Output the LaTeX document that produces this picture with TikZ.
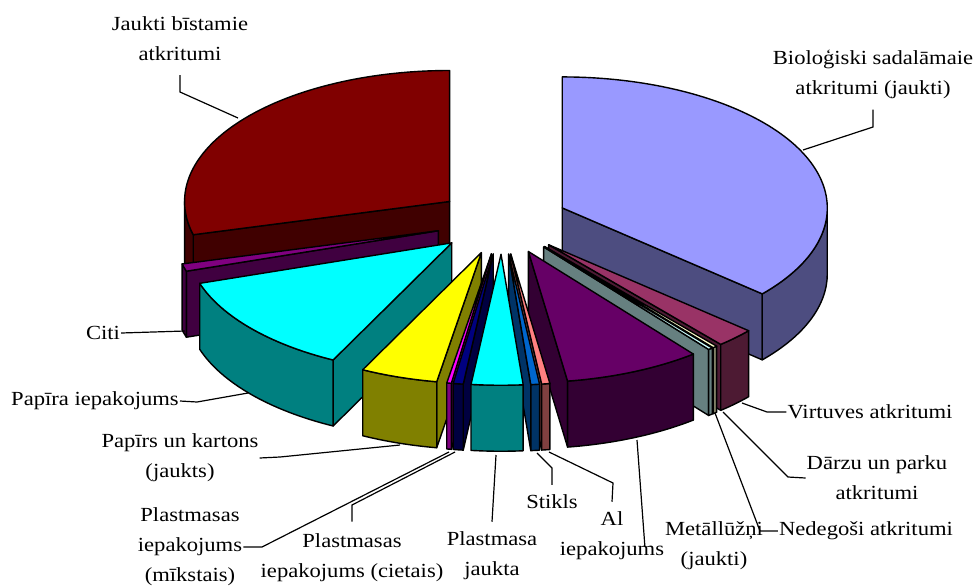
\documentclass[tikz,border=0pt]{standalone}
\usepackage{fontspec}
\setmainfont{Liberation Serif}[FakeStretch=1.13]

% slice colours: top face / side faces
\definecolor{drTop}{HTML}{800000}   \definecolor{drSide}{HTML}{400000}
\definecolor{bioTop}{HTML}{9999FF}  \definecolor{bioSide}{HTML}{4D4D80}
\definecolor{citiTop}{HTML}{800080} \definecolor{citiSide}{HTML}{400040}
\definecolor{papTop}{HTML}{00FFFF}  \definecolor{papSide}{HTML}{008080}
\definecolor{virtTop}{HTML}{993366} \definecolor{virtSide}{HTML}{4D1A33}
\definecolor{darzTop}{HTML}{FFFFCC} \definecolor{darzSide}{HTML}{808066}
\definecolor{nedTop}{HTML}{CCFFFF}  \definecolor{nedSide}{HTML}{668080}
\definecolor{metTop}{HTML}{660066}  \definecolor{metSide}{HTML}{330033}
\definecolor{kartTop}{HTML}{FFFF00} \definecolor{kartSide}{HTML}{808000}
\definecolor{mikTop}{HTML}{FF00FF}  \definecolor{mikSide}{HTML}{800080}
\definecolor{alTop}{HTML}{FF8080}   \definecolor{alSide}{HTML}{804040}
\definecolor{cietTop}{HTML}{000080} \definecolor{cietSide}{HTML}{000040}
\definecolor{stikTop}{HTML}{0066CC} \definecolor{stikSide}{HTML}{003366}
\definecolor{jaukTop}{HTML}{00FFFF} \definecolor{jaukSide}{HTML}{008080}

% exploded slice: lo angle, hi angle, front arc from, front arc to, top colour, side colour
\newcommand{\pieslice}[6]{%
  \pgfmathsetmacro\pmid{(#1+#2)/2}
  \pgfmathsetmacro\pax{502+66.25*cos(\pmid)}
  \pgfmathsetmacro\pay{-221.5+32.75*sin(\pmid)}
  \pgfmathtruncatemacro\hivis{cos(#2)<0}
  \pgfmathtruncatemacro\lovis{cos(#1)>0}
  \ifnum\hivis=1
    \filldraw[face, fill=#6] (\pax,\pay) -- ++(#2:265 and 131) -- ++(0,-66) -- (\pax,\pay-66) -- cycle;
  \fi
  \ifnum\lovis=1
    \filldraw[face, fill=#6] (\pax,\pay) -- ++(#1:265 and 131) -- ++(0,-66) -- (\pax,\pay-66) -- cycle;
  \fi
  \filldraw[face, fill=#6] (\pax,\pay) ++(#3:265 and 131)
    arc[start angle=#3, end angle=#4, x radius=265, y radius=131] -- ++(0,-66)
    arc[start angle=#4, end angle=#3, x radius=265, y radius=131] -- cycle;
  \filldraw[face, fill=#5] (\pax,\pay) -- ++(#1:265 and 131)
    arc[start angle=#1, end angle=#2, x radius=265, y radius=131] -- cycle;
}

\begin{document}
\begin{tikzpicture}[x=1pt, y=1pt,
    face/.style={draw=black, line width=1.4pt, line join=round},
    lbl/.style={font=\fontsize{20}{30}\selectfont, align=center, inner sep=1pt},
    leader/.style={draw=black, line width=1.2pt}
]
\fill[white] (0,0) rectangle (974,-587);
\useasboundingbox (0,0) rectangle (974,-587);

% slices, back to front
\pieslice{90}{194.7}{180}{194.7}{drTop}{drSide}
\pieslice{319}{450}{319}{360}{bioTop}{bioSide}
\pieslice{194.7}{198}{194.7}{198}{citiTop}{citiSide}
\pieslice{198}{243.4}{198}{243.4}{papTop}{papSide}
\pieslice{310.5}{319}{310.5}{319}{virtTop}{virtSide}
\pieslice{309.5}{310.5}{309.5}{310.5}{darzTop}{darzSide}
\pieslice{308.5}{309.5}{308.5}{309.5}{nedTop}{nedSide}
\pieslice{278.5}{308.5}{278.5}{308.5}{metTop}{metSide}
\pieslice{243.4}{260.3}{243.4}{260.3}{kartTop}{kartSide}
\pieslice{260.3}{261.3}{260.3}{261.3}{mikTop}{mikSide}
\pieslice{276.7}{278.5}{276.7}{278.5}{alTop}{alSide}
\pieslice{261.3}{263.5}{261.3}{263.5}{cietTop}{cietSide}
\pieslice{274.8}{276.7}{274.8}{276.7}{stikTop}{stikSide}
\pieslice{263.5}{274.8}{263.5}{274.8}{jaukTop}{jaukSide}

% labels
\node[lbl] (jbist) at (180,-39) {Jaukti bīstamie\\atkritumi};
\node[lbl] (bio) at (873,-74) {Bioloģiski sadalāmaie\\atkritumi (jaukti)};
\node[lbl] (citi) at (103,-333) {Citi};
\node[lbl] (papira) at (95,-401) {Papīra iepakojums};
\node[lbl] (kart) at (180,-458) {Papīrs un kartons\\(jaukts)};
\node[lbl] (mikst) at (190,-547) {Plastmasas\\iepakojums\\(mīkstais)};
\node[lbl] (ciet) at (352,-558) {Plastmasas\\iepakojums (cietais)};
\node[lbl] (jaukta) at (492,-556) {Plastmasa\\jaukta};
\node[lbl] (stikls) at (552,-502) {Stikls};
\node[lbl] (al) at (612,-536) {Al\\iepakojums};
\node[lbl] (metal) at (714,-546) {Metāllūžņi\\(jaukti)};
\node[lbl] (nedeg) at (866,-531) {Nedegoši atkritumi};
\node[lbl] (darzu) at (877,-478) {Dārzu un parku\\atkritumi};
\node[lbl] (virt) at (870,-412) {Virtuves atkritumi};

% leader bends and ends
\coordinate (jbBend) at (180,-92);   \coordinate (jbEnd) at (238,-118);
\coordinate (bioBend) at (873,-127); \coordinate (bioEnd) at (803,-150);
\coordinate (citiEnd) at (185,-331);
\coordinate (papBend) at (197,-402); \coordinate (papEnd) at (248,-393);
\coordinate (kartBend) at (280,-457); \coordinate (kartEnd) at (400,-445);
\coordinate (mikBend) at (262,-547); \coordinate (mikEnd) at (449,-452);
\coordinate (cietBend) at (352,-505); \coordinate (cietEnd) at (455,-452);
\coordinate (jaukEnd) at (496,-455);
\coordinate (stikBend) at (552,-468); \coordinate (stikEnd) at (537,-453);
\coordinate (alBend) at (613,-483); \coordinate (alEnd) at (549,-452);
\coordinate (metEnd) at (637,-440);
\coordinate (nedBend) at (760,-531); \coordinate (nedEnd) at (715,-413);
\coordinate (darzBend) at (788,-477); \coordinate (darzEnd) at (723,-412);
\coordinate (virtBend) at (767,-412); \coordinate (virtEnd) at (742,-403);

\draw[leader] (jbist.south) ++(0,-13) -- (jbBend) -- (jbEnd);
\draw[leader] (bio.south) ++(0,-10) -- (bioBend) -- (bioEnd);
\draw[leader] (citi.east) -- (citiEnd);
\draw[leader] (papira.east) -- (papBend) -- (papEnd);
\draw[leader] (kart.east) -- (kartBend) -- (kartEnd);
\draw[leader] (mikst.east) -- (mikBend) -- (mikEnd);
\draw[leader] ([yshift=11pt]ciet.north) -- (cietBend) -- (cietEnd);
\draw[leader] ([yshift=9pt]jaukta.north) -- (jaukEnd);
\draw[leader] ([yshift=9pt]stikls.north) -- (stikBend) -- (stikEnd);
\draw[leader] ([yshift=9pt]al.north) -- (alBend) -- (alEnd);
\draw[leader] ([xshift=-19pt]metal.west) -- (metEnd);
\draw[leader] (nedeg.west) -- (nedBend) -- (nedEnd);
\draw[leader] (darzu.west) -- (darzBend) -- (darzEnd);
\draw[leader] (virt.west) -- (virtBend) -- (virtEnd);

\end{tikzpicture}
\end{document}
